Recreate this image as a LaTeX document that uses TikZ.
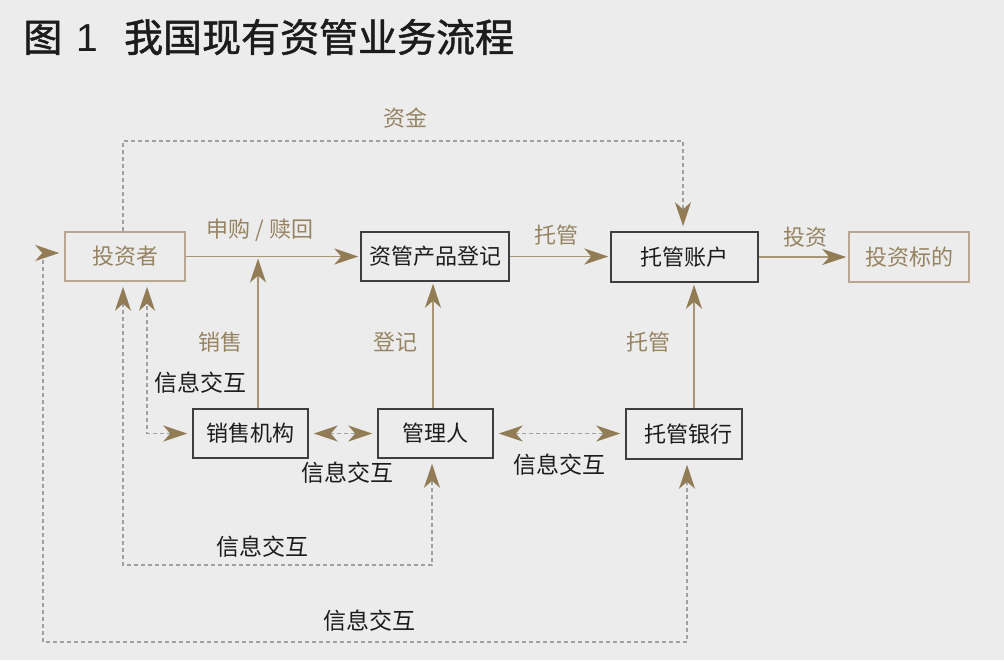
\documentclass[tikz,border=0pt]{standalone}
\usepackage{fontspec}
\setmainfont{Noto Sans CJK SC}
\newfontfamily\titlefont[FakeBold=1.3]{Noto Sans CJK SC}
\newfontfamily\digitfont{Liberation Sans}
\usepackage{tikz}
\usetikzlibrary{arrows.meta,positioning}

\definecolor{bgc}{RGB}{236,236,236}
\definecolor{tanc}{RGB}{150,131,98}
\definecolor{linec}{RGB}{168,150,118}
\definecolor{arrowc}{RGB}{146,124,86}
\definecolor{tanbord}{RGB}{182,168,144}
\definecolor{dashc}{RGB}{160,160,160}
\definecolor{inkc}{RGB}{28,28,28}

\begin{document}
\begin{tikzpicture}[x=0.5pt, y=-0.5pt,
    >={Stealth[length=12pt, width=8pt, inset=3.5pt, color=arrowc]},
    box/.style={draw=inkc!85, line width=0.75pt, text=inkc, inner sep=0pt, font=\fontsize{11}{13}\selectfont},
    tanbox/.style={box, draw=tanbord, text=tanc},
    flow/.style={->, draw=linec, line width=0.75pt, shorten >=1pt},
    info/.style={->, draw=dashc, line width=0.6pt, dash pattern=on 2pt off 1.5pt, shorten >=2.5pt},
    infoboth/.style={info, <->, shorten <=2.5pt},
    lbl/.style={text=inkc, inner sep=0pt, font=\fontsize{11.5}{13}\selectfont},
    tanlbl/.style={lbl, text=tanc, font=\fontsize{11}{13}\selectfont}]
  \useasboundingbox (0,0) rectangle (1004,660);
  \fill[bgc] (0,0) rectangle (1004,660);

  % title
  \node[anchor=west, inner sep=0pt, text=inkc, font=\titlefont\fontsize{19.5}{22}\selectfont] (title) at (23,37)
    {图\hspace{7pt}{\digitfont 1}\hspace{13pt}我国现有资管业务流程};

  % boxes
  \node[tanbox, minimum width=60pt, minimum height=24.5pt] (inv) at (125,256.5) {投资者};
  \node[box, minimum width=74pt, minimum height=24.5pt] (reg) at (435,256.5) {资管产品登记};
  \node[box, minimum width=73.5pt, minimum height=25pt] (acct) at (684.5,257) {托管账户\hspace{8pt}};
  \node[tanbox, minimum width=60pt, minimum height=25pt] (tgt) at (909,257) {投资标的};
  \node[box, minimum width=57.5pt, minimum height=24.5pt] (sale) at (250.5,433.5) {销售机构};
  \node[box, minimum width=57.5pt, minimum height=24.5pt] (mgr) at (435.5,433.5) {管理人\hspace{4.5pt}};
  \node[box, minimum width=58pt, minimum height=25pt] (bank) at (684,434) {\hspace{4pt}托管银行};

  % main flow
  \draw[flow] (inv.east) -- (reg.west);
  \draw[flow] (reg.east) -- (reg.east -| acct.west);
  \draw[flow] (acct.east) -- (tgt.west);
  \draw[flow] ([xshift=3.75pt]sale.north) -- ([xshift=3.75pt]sale.north |- inv.east);
  \draw[flow] ([xshift=-1.25pt]mgr.north) -- ([xshift=-1.25pt]mgr.north |- reg.south);
  \draw[flow] ([xshift=5pt]bank.north) -- ([xshift=5pt]bank.north |- acct.south);

  % information lines
  \coordinate (ftop) at (0,141);
  \coordinate (midb) at (0,565);
  \coordinate (outb) at (43,642);
  \draw[info] ([xshift=-1pt]inv.north) -- ([xshift=-1pt]inv.north |- ftop) -| ([xshift=-0.75pt]acct.north);
  \draw[infoboth] (sale.west) -| ([xshift=11pt]inv.south);
  \draw[infoboth] ([xshift=-1pt]inv.south) -- ([xshift=-1pt]inv.south |- midb) -| ([xshift=-1.75pt]mgr.south);
  \draw[infoboth] ([yshift=1.75pt]inv.west) -| (outb) -| ([xshift=1.5pt]bank.south);
  \draw[infoboth] (sale.east) -- (mgr.west);
  \draw[infoboth] (mgr.east) -- (mgr.east -| bank.west);

  % labels
  \node[tanlbl] (lbuy) at (260,230) {申购 / 赎回};
  \node[tanlbl] (lfund) at (405,118) {资金};
  \node[tanlbl] (lcust) at (556,235) {托管};
  \node[tanlbl] (linvest) at (805,237) {投资};
  \node[tanlbl] (lsell) at (220,342) {销售};
  \node[tanlbl] (lreg) at (395,342) {登记};
  \node[tanlbl] (lbank) at (648,342) {托管};
  \node[lbl] (linfoa) at (200,383) {信息交互};
  \node[lbl] (linfob) at (347,473) {信息交互};
  \node[lbl] (linfoc) at (559,465) {信息交互};
  \node[lbl] (linfod) at (262,547) {信息交互};
  \node[lbl] (linfoe) at (369,621) {信息交互};
\end{tikzpicture}
\end{document}
